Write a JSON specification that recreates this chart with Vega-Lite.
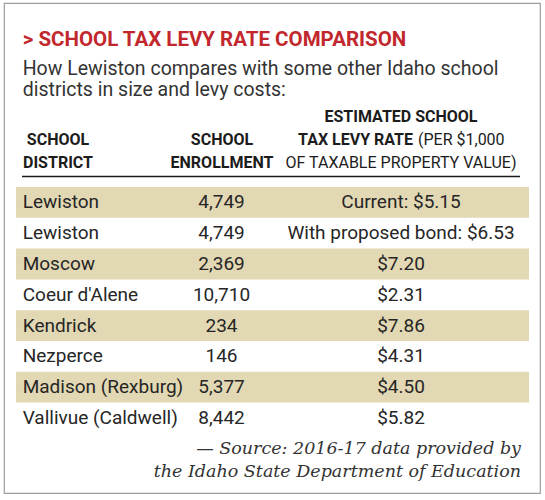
{
  "$schema": "https://vega.github.io/schema/vega-lite/v6.json",
  "width": 536,
  "height": 490,
  "autosize": {"type": "none"},
  "padding": {"left": 4, "top": 3, "right": 5, "bottom": 7},
  "background": "white",
  "config": {
    "view": {"stroke": "#9d9d9d", "strokeWidth": 1.2},
    "text": {"font": "Roboto"}
  },
  "title": {
    "text": "> SCHOOL TAX LEVY RATE COMPARISON",
    "subtitle": ["How Lewiston compares with some other Idaho school", "districts in size and levy costs:"],
    "anchor": "start",
    "frame": "group",
    "orient": "top",
    "offset": -96,
    "dx": 18.7,
    "font": "Roboto",
    "fontWeight": "bold",
    "fontSize": 20.5,
    "color": "#c1272d",
    "subtitleFont": "Roboto",
    "subtitleFontSize": 19.5,
    "subtitleColor": "#333333",
    "subtitleLineHeight": 20.5,
    "subtitlePadding": 9.5
  },
  "datasets": {
    "districts": [
      {"row": 1, "district": "Lewiston", "enrollment": 4749, "levy": "Current: $5.15"},
      {"row": 2, "district": "Lewiston", "enrollment": 4749, "levy": "With proposed bond: $6.53"},
      {"row": 3, "district": "Moscow", "enrollment": 2369, "levy": "$7.20"},
      {"row": 4, "district": "Coeur d'Alene", "enrollment": 10710, "levy": "$2.31"},
      {"row": 5, "district": "Kendrick", "enrollment": 234, "levy": "$7.86"},
      {"row": 6, "district": "Nezperce", "enrollment": 146, "levy": "$4.31"},
      {"row": 7, "district": "Madison (Rexburg)", "enrollment": 5377, "levy": "$4.50"},
      {"row": 8, "district": "Vallivue (Caldwell)", "enrollment": 8442, "levy": "$5.82"}
    ],
    "header": [
      {"column": "levy", "line": 1, "kind": "name", "text": "ESTIMATED SCHOOL"},
      {"column": "district", "line": 2, "kind": "name", "text": "SCHOOL"},
      {"column": "enrollment", "line": 2, "kind": "name", "text": "SCHOOL"},
      {"column": "levy", "line": 2, "kind": "name", "text": "TAX LEVY RATE"},
      {"column": "levy", "line": 2, "kind": "unit", "text": "(PER $1,000"},
      {"column": "district", "line": 3, "kind": "name", "text": "DISTRICT"},
      {"column": "enrollment", "line": 3, "kind": "name", "text": "ENROLLMENT"},
      {"column": "levy", "line": 3, "kind": "unit", "text": "OF TAXABLE PROPERTY VALUE)"}
    ],
    "source": [
      {"line": 1, "text": "— Source: 2016-17 data provided by"},
      {"line": 2, "text": "the Idaho State Department of Education"}
    ]
  },
  "resolve": {"scale": {"x": "independent", "y": "independent"}},
  "layer": [
    {
      "data": {"name": "districts"},
      "transform": [
        {"filter": "datum.row % 2 === 1"},
        {"fold": ["district", "enrollment", "levy"], "as": ["column", "value"]}
      ],
      "mark": {"type": "rect", "color": "#e2d8b3"},
      "encoding": {
        "x": {"field": "column", "type": "nominal", "axis": null, "scale": {"type": "band", "domain": ["district", "enrollment", "levy"], "range": [12, 525], "paddingInner": 0, "paddingOuter": 0}},
        "y": {"field": "row", "type": "ordinal", "axis": null, "scale": {"type": "band", "domain": [1, 2, 3, 4, 5, 6, 7, 8], "range": [184, 430.4], "paddingInner": 0, "paddingOuter": 0}}
      }
    },
    {
      "data": {"values": [{}]},
      "mark": {"type": "rule", "color": "#1a1a1a", "strokeWidth": 1.6, "yOffset": 8.5},
      "encoding": {
        "x": {"datum": 0, "type": "quantitative", "axis": null, "scale": {"domain": [0, 1], "range": [18, 516]}},
        "x2": {"datum": 1},
        "y": {"datum": 3, "type": "ordinal", "axis": null, "scale": {"type": "point", "domain": [1, 2, 3], "range": [118.7, 165], "padding": 0}}
      }
    },
    {
      "data": {"name": "districts"},
      "mark": {"type": "text", "align": "left", "baseline": "middle", "fontSize": 19, "color": "#262626", "dx": 6.7},
      "encoding": {
        "x": {"datum": "district", "type": "nominal", "bandPosition": 0, "axis": null, "scale": {"type": "band", "domain": ["district", "enrollment", "levy"], "range": [12, 525], "paddingInner": 0, "paddingOuter": 0}},
        "y": {"field": "row", "type": "ordinal", "axis": null, "scale": {"type": "band", "domain": [1, 2, 3, 4, 5, 6, 7, 8], "range": [184, 430.4], "paddingInner": 0, "paddingOuter": 0}},
        "text": {"field": "district", "type": "nominal"}
      }
    },
    {
      "data": {"name": "districts"},
      "mark": {"type": "text", "align": "center", "baseline": "middle", "fontSize": 19, "color": "#262626", "dx": 34.5},
      "encoding": {
        "x": {"datum": "enrollment", "type": "nominal", "bandPosition": 0, "axis": null, "scale": {"type": "band", "domain": ["district", "enrollment", "levy"], "range": [12, 525], "paddingInner": 0, "paddingOuter": 0}},
        "y": {"field": "row", "type": "ordinal", "axis": null, "scale": {"type": "band", "domain": [1, 2, 3, 4, 5, 6, 7, 8], "range": [184, 430.4], "paddingInner": 0, "paddingOuter": 0}},
        "text": {"field": "enrollment", "type": "quantitative", "format": ","}
      }
    },
    {
      "data": {"name": "districts"},
      "mark": {"type": "text", "align": "center", "baseline": "middle", "fontSize": 19, "color": "#262626", "dx": 43},
      "encoding": {
        "x": {"datum": "levy", "type": "nominal", "bandPosition": 0, "axis": null, "scale": {"type": "band", "domain": ["district", "enrollment", "levy"], "range": [12, 525], "paddingInner": 0, "paddingOuter": 0}},
        "y": {"field": "row", "type": "ordinal", "axis": null, "scale": {"type": "band", "domain": [1, 2, 3, 4, 5, 6, 7, 8], "range": [184, 430.4], "paddingInner": 0, "paddingOuter": 0}},
        "text": {"field": "levy", "type": "nominal"}
      }
    },
    {
      "data": {"name": "header"},
      "transform": [{"filter": "datum.column === 'district'"}],
      "mark": {"type": "text", "align": "center", "baseline": "alphabetic", "font": "Roboto", "fontWeight": "bold", "fontSize": 16, "color": "#1c1c1c", "dx": 42},
      "encoding": {
        "x": {"field": "column", "type": "nominal", "bandPosition": 0, "axis": null, "scale": {"type": "band", "domain": ["district", "enrollment", "levy"], "range": [12, 525], "paddingInner": 0, "paddingOuter": 0}},
        "y": {"field": "line", "type": "ordinal", "axis": null, "scale": {"type": "point", "domain": [1, 2, 3], "range": [118.7, 165], "padding": 0}},
        "text": {"field": "text", "type": "nominal"}
      }
    },
    {
      "data": {"name": "header"},
      "transform": [{"filter": "datum.column === 'enrollment'"}],
      "mark": {"type": "text", "align": "center", "baseline": "alphabetic", "font": "Roboto", "fontWeight": "bold", "fontSize": 16, "color": "#1c1c1c", "dx": 35},
      "encoding": {
        "x": {"field": "column", "type": "nominal", "bandPosition": 0, "axis": null, "scale": {"type": "band", "domain": ["district", "enrollment", "levy"], "range": [12, 525], "paddingInner": 0, "paddingOuter": 0}},
        "y": {"field": "line", "type": "ordinal", "axis": null, "scale": {"type": "point", "domain": [1, 2, 3], "range": [118.7, 165], "padding": 0}},
        "text": {"field": "text", "type": "nominal"}
      }
    },
    {
      "data": {"name": "header"},
      "transform": [{"filter": "datum.column === 'levy' && datum.line === 1"}],
      "mark": {"type": "text", "align": "center", "baseline": "alphabetic", "font": "Roboto", "fontWeight": "bold", "fontSize": 16, "color": "#1c1c1c", "dx": 43},
      "encoding": {
        "x": {"field": "column", "type": "nominal", "bandPosition": 0, "axis": null, "scale": {"type": "band", "domain": ["district", "enrollment", "levy"], "range": [12, 525], "paddingInner": 0, "paddingOuter": 0}},
        "y": {"field": "line", "type": "ordinal", "axis": null, "scale": {"type": "point", "domain": [1, 2, 3], "range": [118.7, 165], "padding": 0}},
        "text": {"field": "text", "type": "nominal"}
      }
    },
    {
      "data": {"name": "header"},
      "transform": [{"filter": "datum.column === 'levy' && datum.line === 2 && datum.kind === 'name'"}],
      "mark": {"type": "text", "align": "right", "baseline": "alphabetic", "font": "Roboto", "fontWeight": "bold", "fontSize": 16, "color": "#1c1c1c", "dx": 55},
      "encoding": {
        "x": {"field": "column", "type": "nominal", "bandPosition": 0, "axis": null, "scale": {"type": "band", "domain": ["district", "enrollment", "levy"], "range": [12, 525], "paddingInner": 0, "paddingOuter": 0}},
        "y": {"field": "line", "type": "ordinal", "axis": null, "scale": {"type": "point", "domain": [1, 2, 3], "range": [118.7, 165], "padding": 0}},
        "text": {"field": "text", "type": "nominal"}
      }
    },
    {
      "data": {"name": "header"},
      "transform": [{"filter": "datum.column === 'levy' && datum.line === 2 && datum.kind === 'unit'"}],
      "mark": {"type": "text", "align": "left", "baseline": "alphabetic", "font": "Roboto", "fontWeight": "normal", "fontSize": 16, "color": "#1c1c1c", "dx": 60},
      "encoding": {
        "x": {"field": "column", "type": "nominal", "bandPosition": 0, "axis": null, "scale": {"type": "band", "domain": ["district", "enrollment", "levy"], "range": [12, 525], "paddingInner": 0, "paddingOuter": 0}},
        "y": {"field": "line", "type": "ordinal", "axis": null, "scale": {"type": "point", "domain": [1, 2, 3], "range": [118.7, 165], "padding": 0}},
        "text": {"field": "text", "type": "nominal"}
      }
    },
    {
      "data": {"name": "header"},
      "transform": [{"filter": "datum.column === 'levy' && datum.line === 3"}],
      "mark": {"type": "text", "align": "center", "baseline": "alphabetic", "font": "Roboto", "fontWeight": "normal", "fontSize": 16, "color": "#1c1c1c", "dx": 43},
      "encoding": {
        "x": {"field": "column", "type": "nominal", "bandPosition": 0, "axis": null, "scale": {"type": "band", "domain": ["district", "enrollment", "levy"], "range": [12, 525], "paddingInner": 0, "paddingOuter": 0}},
        "y": {"field": "line", "type": "ordinal", "axis": null, "scale": {"type": "point", "domain": [1, 2, 3], "range": [118.7, 165], "padding": 0}},
        "text": {"field": "text", "type": "nominal"}
      }
    },
    {
      "data": {"name": "source"},
      "mark": {"type": "text", "align": "right", "baseline": "alphabetic", "font": "DejaVu Serif", "fontStyle": "italic", "fontSize": 17.5, "color": "#333333", "dx": -8},
      "encoding": {
        "x": {"datum": "levy", "type": "nominal", "bandPosition": 1, "axis": null, "scale": {"type": "band", "domain": ["district", "enrollment", "levy"], "range": [12, 525], "paddingInner": 0, "paddingOuter": 0}},
        "y": {"field": "line", "type": "ordinal", "axis": null, "scale": {"type": "point", "domain": [1, 2], "range": [451, 473.7], "padding": 0}},
        "text": {"field": "text", "type": "nominal"}
      }
    }
  ]
}
